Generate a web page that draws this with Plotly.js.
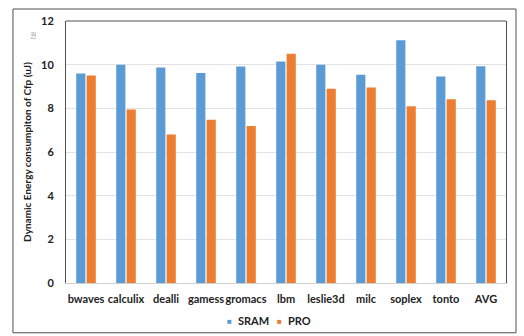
<!DOCTYPE html>
<html>
<head>
<meta charset="utf-8">
<script src="https://cdn.plot.ly/plotly-3.0.1.min.js"></script>
<style>html,body{margin:0;padding:0;background:#fff;}#chart{width:524px;height:336px;}</style>
</head>
<body>
<div id="chart"></div>
<script>
const categories = ["bwaves","calculix","dealli","gamess","gromacs","lbm","leslie3d","milc","soplex","tonto","AVG"];
const sramValues = [9.6, 10.0, 9.87, 9.62, 9.92, 10.15, 10.0, 9.54, 11.12, 9.46, 9.93];
const proValues  = [9.5, 7.95, 6.8, 7.48, 7.19, 10.5, 8.9, 8.95, 8.1, 8.42, 8.37];
const yTicks = [0, 2, 4, 6, 8, 10, 12];
const seriesNames = ["SRAM", "PRO"];
const seriesColors = ["#5B9BD5", "#ED7D31"];

const fontFam = "Lato, 'Open Sans', sans-serif";
const traces = [
  {type:'bar', name:seriesNames[0], x:categories, y:sramValues, marker:{color:seriesColors[0]}},
  {type:'bar', name:seriesNames[1], x:categories, y:proValues, marker:{color:seriesColors[1]}}
];
const legY = -0.145;
const layout = {
  width:524, height:336,
  margin:{l:66, r:18, t:21, b:53},
  paper_bgcolor:'#fff', plot_bgcolor:'#fff',
  barmode:'group', bargap:0.48, bargroupgap:0.12,
  font:{family:fontFam, color:'#222'},
  xaxis:{
    type:'category', showgrid:false, zeroline:false, automargin:false, tickangle:0,
    showline:true, linecolor:'#d0d0d0', linewidth:1,
    tickfont:{family:fontFam, size:11, color:'#222', weight:700},
    ticks:'outside', ticklen:6, tickcolor:'rgba(0,0,0,0)'
  },
  yaxis:{
    range:[0,12], tickvals:yTicks, ticktext:yTicks.map(String), automargin:false,
    showgrid:true, gridcolor:'#e2e2e2', gridwidth:1, zeroline:false,
    showline:true, linecolor:'#505050', linewidth:1, mirror:true,
    tickfont:{family:fontFam, size:11, color:'#222', weight:700},
    ticks:'outside', ticklen:9, tickcolor:'rgba(0,0,0,0)',
    title:{text:'<b>Dynamic Energy consumpiton of Cfp (uJ)</b>', font:{family:fontFam, size:10, color:'#222'}, standoff:7}
  },
  showlegend:false,
  shapes:[
    {type:'line', xref:'paper', yref:'paper', x0:0, x1:1, y0:1, y1:1, line:{color:'#505050', width:1}},
    {type:'rect', xref:'paper', yref:'paper', x0:-0.1205, x1:1.0227, y0:-0.19, y1:1.0458, line:{color:'#505050', width:1}}
  ],
  annotations:[
    {text:'권', xref:'paper', yref:'paper', x:-0.0865, y:0.973, showarrow:false,
     font:{family:"'Noto Sans CJK KR', sans-serif", size:7, color:'#999'}},
    {text:'■', xref:'paper', yref:'paper', x:(229-66)/440, y:legY, xanchor:'center', yanchor:'middle', showarrow:false,
     font:{size:8, color:seriesColors[0]}},
    {text:seriesNames[0], xref:'paper', yref:'paper', x:(236-66)/440, y:legY, xanchor:'left', yanchor:'middle', showarrow:false,
     font:{family:fontFam, size:11, color:'#222', weight:700}},
    {text:'■', xref:'paper', yref:'paper', x:(279-66)/440, y:legY, xanchor:'center', yanchor:'middle', showarrow:false,
     font:{size:8, color:seriesColors[1]}},
    {text:seriesNames[1], xref:'paper', yref:'paper', x:(286-66)/440, y:legY, xanchor:'left', yanchor:'middle', showarrow:false,
     font:{family:fontFam, size:11, color:'#222', weight:700}}
  ]
};
Plotly.newPlot('chart', traces, layout, {staticPlot:true, displayModeBar:false});
</script>
</body>
</html>
